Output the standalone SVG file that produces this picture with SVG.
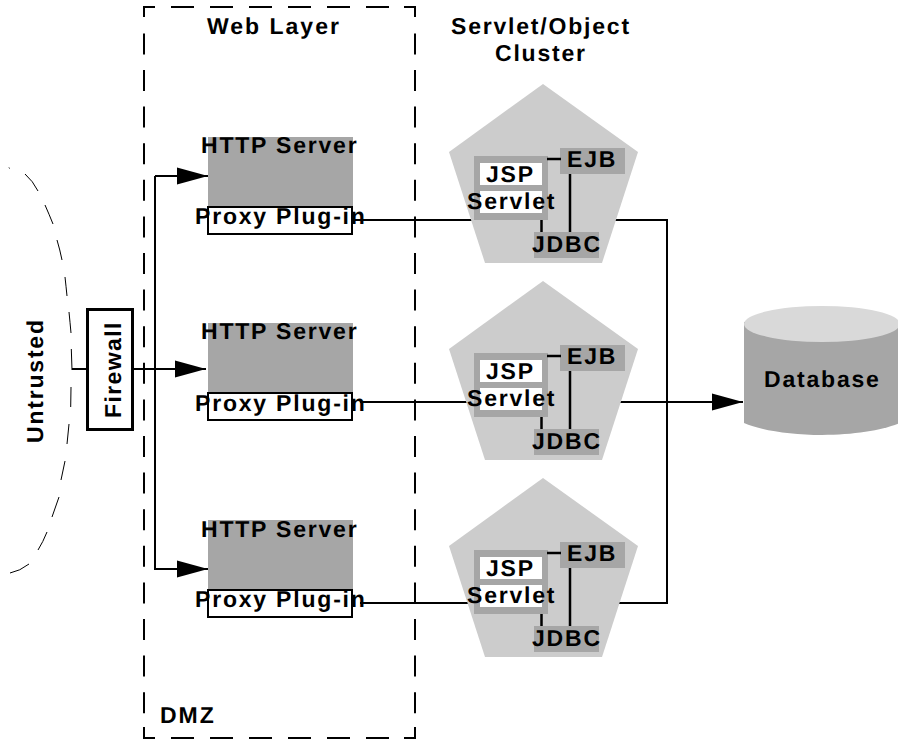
<svg xmlns="http://www.w3.org/2000/svg" width="898" height="739" viewBox="0 0 898 739">
<style>
text{font-family:"Liberation Sans",Arial,sans-serif;font-weight:bold;font-size:23px;letter-spacing:1.8px;fill:#000;text-rendering:geometricPrecision}
.ln{fill:none;stroke:#000;stroke-width:2}
.http{fill:#a6a6a6}
.proxy{fill:#fff;stroke:#000;stroke-width:2}
.pent{fill:#cccccc}
.dk{fill:#a6a6a6}
.wh{fill:#fff}
.in{fill:none;stroke:#000;stroke-width:2.5}
.dz{fill:none;stroke:#000;stroke-width:2}
.dv{stroke-dasharray:21 15.6}
.dh{stroke-dasharray:23 16}
.cv{fill:none;stroke:#000;stroke-width:1}
</style>
<defs>
<marker id="ah" markerUnits="userSpaceOnUse" markerWidth="31" markerHeight="18" refX="31" refY="9" orient="auto"><path d="M0 0.5L31 9L0 17.5Z" fill="#000"/></marker>
</defs>
<g id="dmz">
<path class="dz" d="M144 17V7H155M404 7H415V17M144 727V738H155M404 738H415V727"/>
<path class="dz dh" d="M171 7H400"/>
<path class="dz dh" d="M171 738H400"/>
<path class="dz dv" d="M144 33.4V720"/>
<path class="dz dv" d="M415 33.4V720"/>
<text x="160" y="723" style="letter-spacing:2px">DMZ</text>
<text x="207" y="34" style="letter-spacing:2px">Web Layer</text>
</g>
<g id="untrusted">
<path class="cv" d="M9 167.5L9.5 168.5M25 174Q33 181 38 191M45 205Q49 214 53 224M57 240Q60 250 62 260M65 277Q66 286 67 296M69 312Q70 322 71 333M71.3 349L72 370M71 387L70.7 407M69 424L67 444M65 461L61 480M59 497L52 517M47 532Q43 542 38 550M29 564Q20 571 10 573"/>
<text transform="translate(43 443) rotate(-90)">Untrusted</text>
</g>
<g id="connectors">
<path class="ln" d="M72 369H87"/>
<path class="ln" d="M133 369H206" marker-end="url(#ah)"/>
<path class="ln" d="M155 176V569H208" marker-end="url(#ah)"/>
<path class="ln" d="M155 176H208" marker-end="url(#ah)"/>
<path class="ln" d="M352 220H667V603H360"/>
<path class="ln" d="M360 402H743" marker-end="url(#ah)"/>
</g>
<g id="firewall">
<rect x="87.5" y="309.5" width="45" height="120" fill="#fff" stroke="#000" stroke-width="3"/>
<text transform="translate(121 418) rotate(-90)" style="letter-spacing:1.4px">Firewall</text>
</g>
<g id="http1"><rect class="http" x="208" y="137" width="145" height="69"/><text x="201" y="153">HTTP Server</text></g>
<g id="proxy1"><rect class="proxy" x="208" y="207" width="144" height="27"/><text x="195" y="224">Proxy Plug-in</text></g>
<g id="http2"><rect class="http" x="208" y="323" width="145" height="69"/><text x="201" y="339">HTTP Server</text></g>
<g id="proxy2"><rect class="proxy" x="208" y="393" width="144" height="27"/><text x="195" y="411">Proxy Plug-in</text></g>
<g id="http3"><rect class="http" x="208" y="520" width="145" height="69"/><text x="201" y="537">HTTP Server</text></g>
<g id="proxy3"><rect class="proxy" x="208" y="590" width="144" height="27"/><text x="195" y="607">Proxy Plug-in</text></g>
<g id="clusterTitle"><text x="451" y="34">Servlet/Object</text><text x="495" y="61">Cluster</text></g>
<g id="cluster1">
<path class="pent" d="M543 84L638 152L602 263H485L449 152Z"/>
<rect class="dk" x="474" y="156" width="74" height="64"/><rect class="wh" x="480" y="163" width="62" height="22"/><rect class="wh" x="480" y="191" width="62" height="22"/>
<rect class="dk" x="560" y="148" width="65" height="26"/><rect class="dk" x="534" y="232" width="65" height="26"/>
<path class="in" d="M547 159H561M570 174V232M541.5 220V232"/>
<text x="486" y="182">JSP</text><text x="467" y="209">Servlet</text><text x="567" y="167">EJB</text><text x="532" y="252">JDBC</text>
</g>
<g id="cluster2">
<path class="pent" d="M543 281L638 349L602 460H485L449 349Z"/>
<rect class="dk" x="474" y="353" width="74" height="64"/><rect class="wh" x="480" y="360" width="62" height="22"/><rect class="wh" x="480" y="388" width="62" height="22"/>
<rect class="dk" x="560" y="345" width="65" height="26"/><rect class="dk" x="534" y="429" width="65" height="26"/>
<path class="in" d="M547 356H561M570 371V429M541.5 417V429"/>
<text x="486" y="379">JSP</text><text x="467" y="406">Servlet</text><text x="567" y="364">EJB</text><text x="532" y="449">JDBC</text>
</g>
<g id="cluster3">
<path class="pent" d="M543 478L638 546L602 657H485L449 546Z"/>
<rect class="dk" x="474" y="550" width="74" height="64"/><rect class="wh" x="480" y="557" width="62" height="22"/><rect class="wh" x="480" y="585" width="62" height="22"/>
<rect class="dk" x="560" y="542" width="65" height="26"/><rect class="dk" x="534" y="626" width="65" height="26"/>
<path class="in" d="M547 553H561M570 568V626M541.5 614V626"/>
<text x="486" y="576">JSP</text><text x="467" y="603">Servlet</text><text x="567" y="561">EJB</text><text x="532" y="646">JDBC</text>
</g>
<g id="database">
<path d="M744 322V423C760 430 790 435 822 435S884 430 900 423V322Z" fill="#a6a6a6"/>
<ellipse cx="822" cy="324" rx="78" ry="18" fill="#d9d9d9"/>
<text x="764" y="387">Database</text>
</g>
</svg>
